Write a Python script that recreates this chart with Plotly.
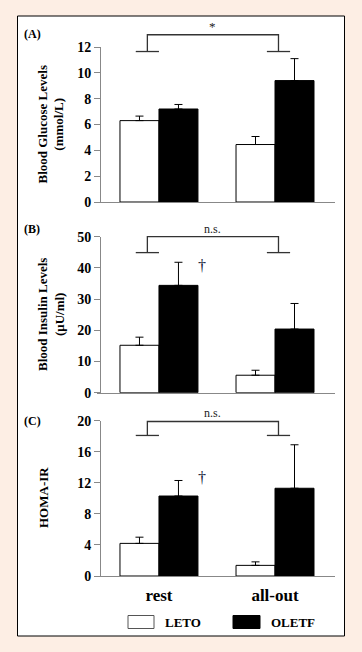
import plotly.graph_objects as go

# ---------------- data ----------------
categories = ["rest", "all-out"]
groups = ["LETO", "OLETF"]

glucose_leto = [6.3, 4.45]
glucose_leto_err = [0.35, 0.62]
glucose_oletf = [7.2, 9.4]
glucose_oletf_err = [0.35, 1.7]

insulin_leto = [15.2, 5.6]
insulin_leto_err = [2.6, 1.6]
insulin_oletf = [34.4, 20.4]
insulin_oletf_err = [7.4, 8.2]

homa_leto = [4.2, 1.37]
homa_leto_err = [0.8, 0.45]
homa_oletf = [10.3, 11.3]
homa_oletf_err = [2.0, 5.6]

panel_labels = ["(A)", "(B)", "(C)"]
y_titles = ["Blood Glucose Levels<br>(mmol/L)", "Blood Insulin Levels<br>(μU/ml)", "HOMA-IR"]
y_ranges = [[0, 12], [0, 50], [0, 20]]
y_dticks = [2, 10, 4]
sig_labels = ["*", "n.s.", "n.s."]
bracket_top = [12.95, 50.0, 19.9]
bracket_feet = [11.65, 44.9, 18.1]
dagger_y = [None, 40.9, 12.7]
dagger_x = 0.37

# ---------------- layout geometry ----------------
W, H = 362, 652
FONT = "Liberation Serif"
BG = "#FDEEE4"


def px_x(p):
    return p / W


def px_y(p):
    return 1 - p / H


x_range = [-0.534, 1.517]
x_dom = [px_x(97), px_x(335)]
y_doms = [[px_y(202), px_y(47)], [px_y(392.7), px_y(236.7)], [px_y(576), px_y(420.7)]]

panels = [
    (glucose_leto, glucose_leto_err, glucose_oletf, glucose_oletf_err),
    (insulin_leto, insulin_leto_err, insulin_oletf, insulin_oletf_err),
    (homa_leto, homa_leto_err, homa_oletf, homa_oletf_err),
]


def data_to_paper_x(v):
    return x_dom[0] + (v - x_range[0]) / (x_range[1] - x_range[0]) * (x_dom[1] - x_dom[0])


def data_to_paper_y(v, i):
    r0, r1 = y_ranges[i]
    d0, d1 = y_doms[i]
    return d0 + (v - r0) / (r1 - r0) * (d1 - d0)


fig = go.Figure()
shapes = []
annotations = []

# white panel box
shapes.append(dict(type="rect", xref="paper", yref="paper",
                   x0=px_x(17.5), x1=px_x(344.5), y0=px_y(636), y1=px_y(16),
                   fillcolor="white", line=dict(color="black", width=1), layer="below"))

for i, (lv, le, ov, oe) in enumerate(panels):
    sfx = "" if i == 0 else str(i + 1)
    xa, ya = "x" + sfx, "y" + sfx
    fig.add_trace(go.Bar(
        x=[0, 1], y=lv, name=groups[0], xaxis=xa, yaxis=ya, showlegend=False,
        marker=dict(color="white", line=dict(color="black", width=1)),
        error_y=dict(type="data", array=le, arrayminus=[0, 0], symmetric=False,
                     color="black", thickness=1, width=4),
    ))
    fig.add_trace(go.Bar(
        x=[0, 1], y=ov, name=groups[1], xaxis=xa, yaxis=ya, showlegend=False,
        marker=dict(color="black", line=dict(color="black", width=1)),
        error_y=dict(type="data", array=oe, arrayminus=[0, 0], symmetric=False,
                     color="black", thickness=1, width=4),
    ))
    last = i == 2
    fig.layout["xaxis" + sfx] = dict(
        domain=x_dom, range=x_range, anchor=ya, showline=True, linecolor="#888888",
        linewidth=1, showgrid=False, zeroline=False, ticks="", automargin=False,
        tickmode="array", tickvals=[0, 1], ticktext=categories,
        showticklabels=last,
        tickfont=dict(family=FONT, size=17, color="black", weight="bold"),
        ticklabelstandoff=4,
    )
    fig.layout["yaxis" + sfx] = dict(
        domain=y_doms[i], range=y_ranges[i], dtick=y_dticks[i], anchor="free",
        position=px_x(100), showline=True, linecolor="#888888", linewidth=1,
        ticks="outside", ticklen=6, tickcolor="#888888", showgrid=False, zeroline=False,
        automargin=False,
        tickfont=dict(family=FONT, size=14, color="black", weight="bold"),
    )

    # bracket
    lx, rx, hf = -0.1, 1.03, 0.1
    yt = data_to_paper_y(bracket_top[i], i)
    yf = data_to_paper_y(bracket_feet[i], i)
    bcol = dict(color="#333333", width=1.3)
    shapes.append(dict(type="path", xref="paper", yref="paper",
                       path=f"M {data_to_paper_x(lx)} {yf} L {data_to_paper_x(lx)} {yt} "
                            f"L {data_to_paper_x(rx)} {yt} L {data_to_paper_x(rx)} {yf}",
                       line=bcol))
    for cx in (lx, rx):
        shapes.append(dict(type="line", xref="paper", yref="paper",
                           x0=data_to_paper_x(cx - hf), x1=data_to_paper_x(cx + hf),
                           y0=yf, y1=yf, line=bcol))
    annotations.append(dict(xref="paper", yref="paper", x=data_to_paper_x((lx + rx) / 2),
                            y=yt + 8 / H, text=sig_labels[i], showarrow=False,
                            yanchor="middle",
                            font=dict(family=FONT, size=12 if i else 13, color="#222222")))
    if dagger_y[i] is not None:
        annotations.append(dict(xref=xa, yref=ya, x=dagger_x, y=dagger_y[i], text="†",
                                showarrow=False, font=dict(family=FONT, size=16, color="#111133")))

    # panel label
    label_y = [34, 229, 421][i]
    annotations.append(dict(xref="paper", yref="paper", x=px_x(22), y=px_y(label_y),
                            xanchor="left", yanchor="middle", text=panel_labels[i],
                            showarrow=False,
                            font=dict(family=FONT, size=12, color="black", weight="bold")))
    # y title
    tx = [51, 51, 43][i]
    ty = [124.5, 315, 498][i]
    annotations.append(dict(xref="paper", yref="paper", x=px_x(tx), y=px_y(ty),
                            text=y_titles[i], textangle=-90, showarrow=False,
                            xanchor="center", yanchor="middle",
                            font=dict(family=FONT, size=13, color="black", weight="bold")))

# legend (manual)
leg = [(128, 154, 163, "white", "#555555"), (233, 260, 269, "black", "black")]
for (x0, x1, tx, fc, lc), name in zip(leg, groups):
    shapes.append(dict(type="rect", xref="paper", yref="paper",
                       x0=px_x(x0), x1=px_x(x1), y0=px_y(628.5), y1=px_y(615.5),
                       fillcolor=fc, line=dict(color=lc, width=1)))
    annotations.append(dict(xref="paper", yref="paper", x=px_x(tx), y=px_y(622),
                            xanchor="left", yanchor="middle", text=name, showarrow=False,
                            font=dict(family=FONT, size=13, color="black", weight="bold")))

fig.update_layout(
    width=W, height=H, autosize=False,
    margin=dict(l=0, r=0, t=0, b=0),
    paper_bgcolor=BG, plot_bgcolor="rgba(0,0,0,0)",
    barmode="group", bargap=0.328, bargroupgap=0,
    shapes=shapes, annotations=annotations, showlegend=False,
)

fig.write_html("out.html", config={"displayModeBar": False},
               post_script="document.body.style.margin='0px';")
